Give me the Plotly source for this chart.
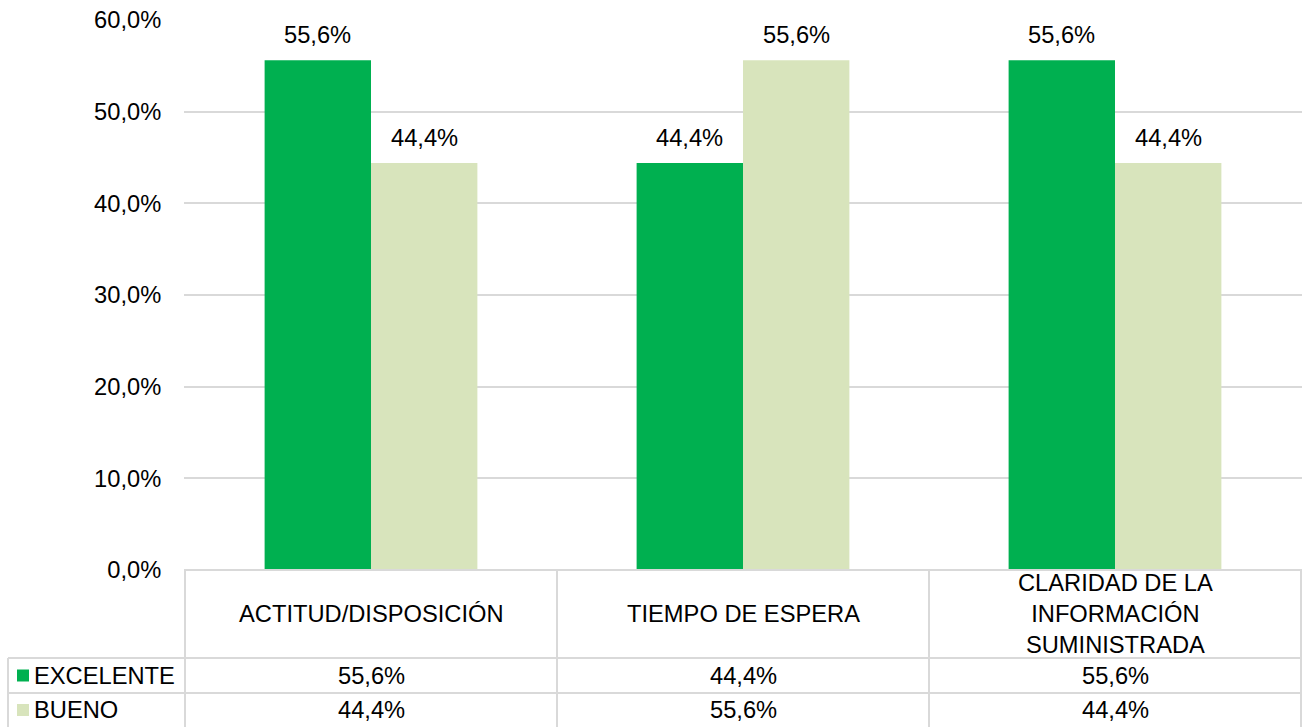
import plotly.graph_objects as go

# Survey results by aspect
categories = ["ACTITUD/DISPOSICIÓN", "TIEMPO DE ESPERA", "CLARIDAD DE LA INFORMACIÓN SUMINISTRADA"]
header_labels = ["ACTITUD/DISPOSICIÓN", "TIEMPO DE ESPERA", "CLARIDAD DE LA<br>INFORMACIÓN<br>SUMINISTRADA"]
series_names = ["EXCELENTE", "BUENO"]
excelente = [0.556, 0.444, 0.556]
bueno = [0.444, 0.556, 0.444]
series_colors = ["#00B050", "#D8E4BC"]

FONT = "Liberation Sans, Arial, sans-serif"
FS = 23.7
GRID = "#D9D9D9"
TXT = "#000000"

W, H = 1308, 727
ML, MR, MT, MB = 184, 6, 20, 157
plot_h = H - MT - MB
plot_w = W - ML - MR
BARGAP = 0.428
n_cat = len(categories)
# half a bar, in pixels, for placing value labels over each bar
half_bar = plot_w / n_cat * (1 - BARGAP) / 4


def fmt(v):
    return f"{v * 100:.1f}%".replace(".", ",")


def py(pix):
    """Pixel row -> paper y."""
    return (H - MB - pix) / plot_h


def px(pix):
    """Pixel column -> paper x."""
    return (pix - ML) / plot_w


fig = go.Figure()
for name, vals, col in zip(series_names, [excelente, bueno], series_colors):
    fig.add_trace(go.Bar(
        x=categories, y=vals, name=name, marker_color=col,
        marker_line_width=0,
    ))

annotations = []
# value labels above bars
for k, vals in enumerate([excelente, bueno]):
    shift = -half_bar if k == 0 else half_bar
    for c, v in zip(categories, vals):
        annotations.append(dict(x=c, y=v, xref="x", yref="y", text=fmt(v), showarrow=False,
                                xanchor="center", yanchor="bottom", xshift=shift, yshift=10,
                                font=dict(family=FONT, size=FS, color=TXT)))

shapes = []
line = dict(color=GRID, width=2)
row_tops = [H - MB, 658, 693, 727]
# horizontal table rules
shapes.append(dict(type="line", xref="paper", yref="paper", x0=0, x1=1,
                   y0=py(row_tops[0]), y1=py(row_tops[0]), line=line))
for r in row_tops[1:3]:
    shapes.append(dict(type="line", xref="paper", yref="paper", x0=px(8), x1=1,
                       y0=py(r), y1=py(r), line=line))
# vertical table rules
for i in range(n_cat + 1):
    shapes.append(dict(type="line", xref="x", yref="paper", x0=i - 0.5, x1=i - 0.5,
                       y0=py(row_tops[0]), y1=py(H), line=line))
shapes.append(dict(type="line", xref="paper", yref="paper", x0=px(8), x1=px(8),
                   y0=py(row_tops[1]), y1=py(H), line=line))

# column headers
for i, lab in enumerate(header_labels):
    annotations.append(dict(x=i, y=py((row_tops[0] + row_tops[1]) / 2), xref="x", yref="paper",
                            text=lab, showarrow=False, align="center",
                            xanchor="center", yanchor="middle",
                            font=dict(family=FONT, size=FS, color=TXT)))
# data rows with legend keys
for k, (name, vals, col) in enumerate(zip(series_names, [excelente, bueno], series_colors)):
    yc = (row_tops[k + 1] + row_tops[k + 2]) / 2
    shapes.append(dict(type="rect", xref="paper", yref="paper",
                       x0=px(17), x1=px(29), y0=py(yc + 6), y1=py(yc - 6),
                       fillcolor=col, line=dict(width=0)))
    annotations.append(dict(x=px(32), y=py(yc), xref="paper", yref="paper",
                            xanchor="left", yanchor="middle",
                            text=name, showarrow=False,
                            font=dict(family=FONT, size=FS, color=TXT)))
    for i, v in enumerate(vals):
        annotations.append(dict(x=i, y=py(yc), xref="x", yref="paper",
                                xanchor="center", yanchor="middle",
                                text=fmt(v), showarrow=False,
                                font=dict(family=FONT, size=FS, color=TXT)))

fig.update_layout(
    width=W, height=H,
    margin=dict(l=ML, r=MR, t=MT, b=MB),
    paper_bgcolor="white", plot_bgcolor="white",
    separators=",.",
    barmode="group", bargap=BARGAP, bargroupgap=0,
    showlegend=False,
    font=dict(family=FONT, size=FS, color=TXT),
    shapes=shapes, annotations=annotations,
    xaxis=dict(showticklabels=False, showgrid=False, zeroline=False, showline=False),
    yaxis=dict(range=[0, 0.6], dtick=0.1, tickformat=".1%", showgrid=True,
               gridcolor=GRID, gridwidth=2, zeroline=False, showline=False,
               ticks="outside", ticklen=17, tickcolor="rgba(0,0,0,0)",
               tickfont=dict(family=FONT, size=FS, color=TXT)),
)

fig.write_html("out.html")
